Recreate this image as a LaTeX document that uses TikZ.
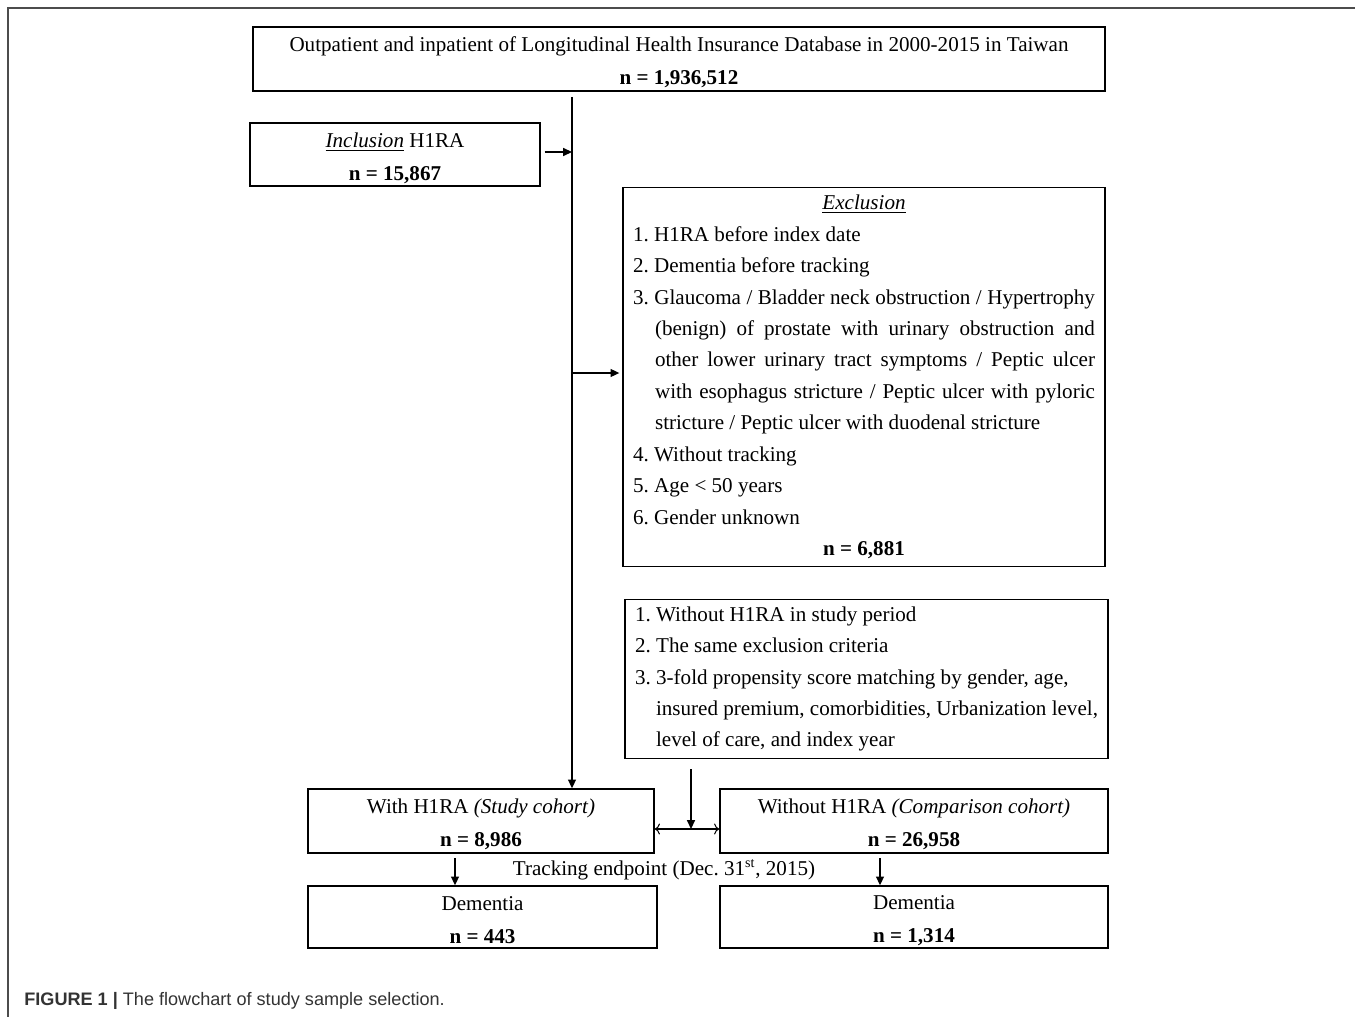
\documentclass[tikz,border=0pt]{standalone}
\usepackage{fontspec}
\setmainfont{Liberation Serif}
\newfontfamily\capfont{Liberation Sans}
\usetikzlibrary{arrows.meta}
\frenchspacing
\newcommand\lnstrut{\rule[-1.5pt]{0pt}{14pt}}

\begin{document}
\begin{tikzpicture}[x=0.02cm,y=-0.02cm,
		box/.style={draw,line width=0.8pt,align=center,inner sep=0pt,font=\fontsize{12}{18.7}\selectfont},
		link/.style={line width=0.8pt,-{Triangle[length=5pt,width=4.5pt]}},
		twoway/.style={line width=0.6pt,{To[length=3pt]}-{To[length=3pt]}}]
		
		% page frame
		\useasboundingbox (0,0) rectangle (1355,1017);
		\draw[gray!60!black,line width=0.9pt] (8,1017) -- (8,8) -- (1355,8);
		
		% boxes
		\node[box,minimum width=17.04cm,minimum height=1.28cm] (db) at (679,59)
			{\lnstrut Outpatient and inpatient of Longitudinal Health Insurance Database in 2000-2015 in Taiwan\\\lnstrut\textbf{n = 1,936,512}};
		\node[box,minimum width=5.8cm,minimum height=1.26cm] (incl) at (395,154.5)
			{\lnstrut\underline{\textit{Inclusion}} H1RA\\\lnstrut\textbf{n = 15,867}};
		\node[box,align=justify,inner xsep=0.2cm,inner ysep=0.12cm,text width=9.24cm,minimum height=7.58cm,font=\fontsize{12}{17.9}\selectfont] (excl) at (864,377)
			{\makebox[\linewidth]{\underline{\textit{Exclusion}}}\par
			1. H1RA before index date\par
			2. Dementia before tracking\par
			\hangindent=0.44cm\hangafter=1
			3. Glaucoma / Bladder neck obstruction / Hypertrophy\linebreak
			(benign) of prostate with urinary obstruction and\linebreak
			other lower urinary tract symptoms / Peptic ulcer\linebreak
			with esophagus stricture / Peptic ulcer with pyloric\linebreak
			stricture / Peptic ulcer with duodenal stricture\par
			4. Without tracking\par
			5. Age < 50 years\par
			6. Gender unknown\par
			\makebox[\linewidth]{\textbf{n = 6,881}}};
		\node[box,align=flush left,inner xsep=0.2cm,text width=9.26cm,minimum height=3.18cm,font=\fontsize{12}{17.9}\selectfont] (match) at (866.5,679)
			{1. Without H1RA in study period\\
			2. The same exclusion criteria\\
			3. 3-fold propensity score matching by gender, age,\\
			\hspace*{0.42cm}insured premium, comorbidities, Urbanization level,\\
			\hspace*{0.42cm}level of care, and index year};
		\node[box,minimum width=6.92cm,minimum height=1.28cm] (study) at (481,821)
			{\lnstrut With H1RA \textit{(Study cohort)}\\\lnstrut\textbf{n = 8,986}};
		\node[box,minimum width=7.76cm,minimum height=1.28cm] (comp) at (914,821)
			{\lnstrut Without H1RA \textit{(Comparison cohort)}\\\lnstrut\textbf{n = 26,958}};
		\node[box,minimum width=6.98cm,minimum height=1.24cm] (demL) at (482.5,917)
			{\lnstrut Dementia\\\lnstrut\textbf{n = 443}};
		\node[box,minimum width=7.76cm,minimum height=1.24cm] (demR) at (914,917)
			{\lnstrut Dementia\\\lnstrut\textbf{n = 1,314}};
		\node[font=\fontsize{12}{14}\selectfont] (track) at (664,870)
			{Tracking endpoint (Dec.~31\textsuperscript{st}, 2015)};
		
		% caption
		\node[anchor=west,inner xsep=0pt,font=\capfont\fontsize{10.3}{12}\selectfont,text=black!80] (cap) at (24,1001)
			{\textbf{FIGURE 1 |} The flowchart of study sample selection.};
		
		% connectors
		\coordinate (split) at (572,97);
		\coordinate (mid) at (691,829);
		\coordinate (dl) at (455,858);
		\coordinate (dr) at (880,858);
		\draw[link] (split) -- (split |- study.north);
		\draw[link] ([xshift=0.08cm]incl.east |- 0,152) -- (split |- 0,152);
		\draw[link] (split |- 0,373) -- ([xshift=-0.06cm]excl.west |- 0,373);
		\draw[link] ([yshift=-0.2cm]match.south -| mid) -- (mid);
		\draw[twoway] (study.east |- mid) -- (comp.west |- mid);
		\draw[link] (dl) -- (dl |- demL.north);
		\draw[link] (dr) -- (dr |- demR.north);
	\end{tikzpicture}
\end{document}
